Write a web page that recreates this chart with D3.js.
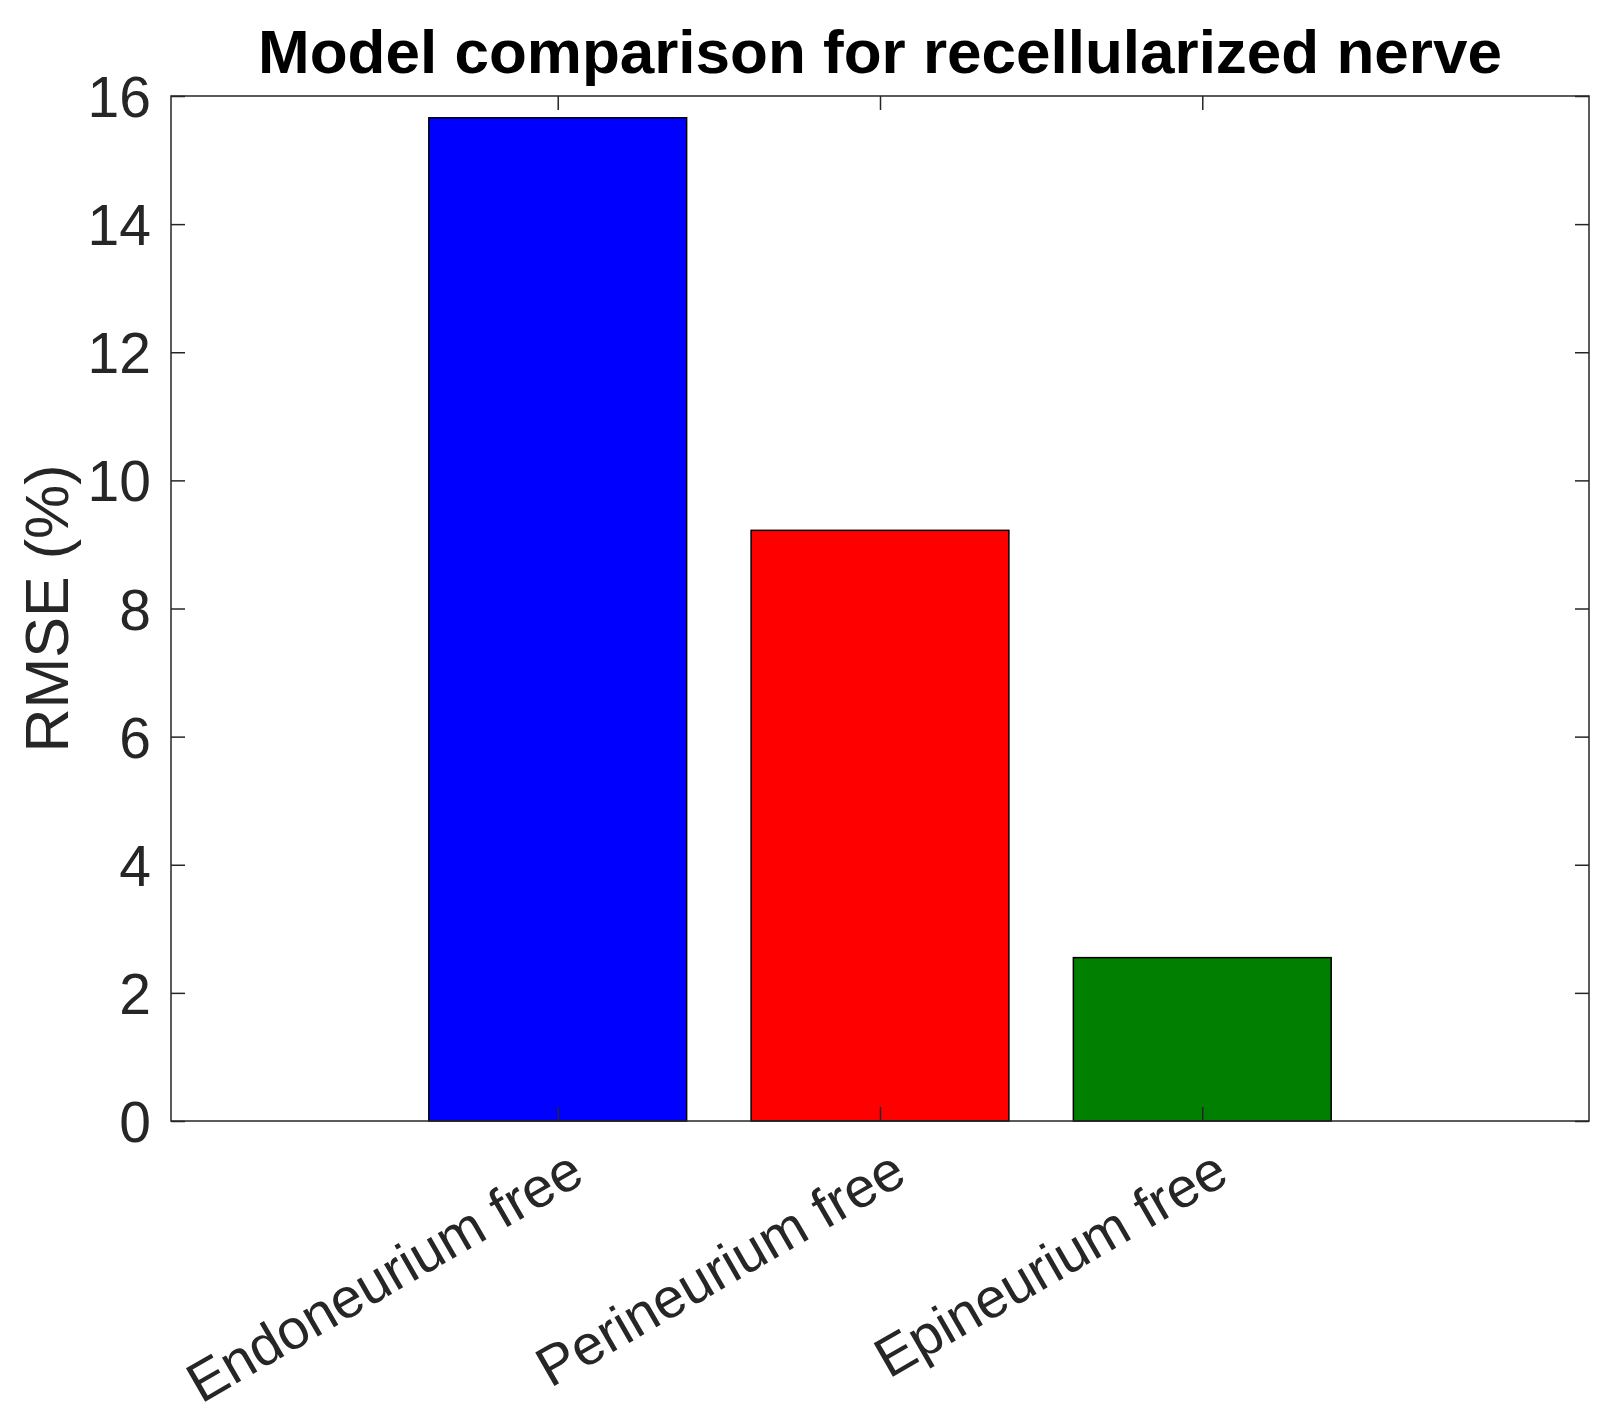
<!DOCTYPE html>
<html><head><meta charset="utf-8">
<script src="https://cdn.jsdelivr.net/npm/d3@7"></script>
<style>body{margin:0;background:#fff;} text{font-family:"Liberation Sans",Arial,sans-serif;}</style>
</head><body>
<svg id="c" width="1612" height="1427"></svg>
<script>
const categories = ["Endoneurium free", "Perineurium free", "Epineurium free"];
const values = [15.66, 9.22, 2.55];
const colors = ["#0000ff", "#ff0000", "#007f00"];
const yTicks = [0, 2, 4, 6, 8, 10, 12, 14, 16];
const titleText = "Model comparison for recellularized nerve";
const yLabel = "RMSE (%)";

const svg = d3.select("#c");
const L = 171, R = 1589, T = 96, B = 1121;
const x = d3.scaleLinear().domain([-0.2, 4.2]).range([L, R]);
const y = d3.scaleLinear().domain([0, 16]).range([B, T]);
const pos = [1, 2, 3];
const bw = 0.8;
const axCol = "#262626";

// bars
svg.selectAll("rect.bar").data(values).enter().append("rect")
  .attr("x", (d, i) => x(pos[i] - bw / 2))
  .attr("width", (d, i) => x(pos[i] + bw / 2) - x(pos[i] - bw / 2))
  .attr("y", d => y(d))
  .attr("height", d => y(0) - y(d))
  .attr("fill", (d, i) => colors[i])
  .attr("stroke", "#000").attr("stroke-width", 1.5);

// box
svg.append("rect").attr("x", L).attr("y", T).attr("width", R - L).attr("height", B - T)
  .attr("fill", "none").attr("stroke", axCol).attr("stroke-width", 1.5);

const tl = 14;
// y ticks left/right
const yAxL = d3.axisLeft(y).tickValues(yTicks).tickSize(-tl).tickPadding(tl + 6);
const gL = svg.append("g").attr("transform", `translate(${L},0)`).call(yAxL);
gL.select(".domain").remove();
gL.selectAll("line").attr("stroke", axCol).attr("stroke-width", 1.5);
gL.selectAll("text").attr("fill", axCol).style("font-size", "57px").attr("dy", "0.36em");
const gR = svg.append("g").attr("transform", `translate(${R},0)`).call(d3.axisRight(y).tickValues(yTicks).tickSize(-tl).tickFormat(""));
gR.select(".domain").remove();
gR.selectAll("line").attr("stroke", axCol).attr("stroke-width", 1.5);

// x ticks bottom/top
const gB = svg.append("g").attr("transform", `translate(0,${B})`).call(d3.axisBottom(x).tickValues(pos).tickSize(-tl).tickFormat(""));
gB.select(".domain").remove();
gB.selectAll("line").attr("stroke", axCol).attr("stroke-width", 1.5);
const gT = svg.append("g").attr("transform", `translate(0,${T})`).call(d3.axisTop(x).tickValues(pos).tickSize(-tl).tickFormat(""));
gT.select(".domain").remove();
gT.selectAll("line").attr("stroke", axCol).attr("stroke-width", 1.5);

// x labels rotated
svg.selectAll("text.xl").data(categories).enter().append("text")
  .attr("class", "xl")
  .attr("transform", (d, i) => `translate(${x(pos[i]) + 8},${B + 24}) rotate(-30)`)
  .attr("text-anchor", "end").attr("dy", "0.75em")
  .attr("fill", axCol).style("font-size", "56px").text(d => d);

// y label
svg.append("text").attr("transform", `translate(68,${(T + B) / 2}) rotate(-90)`)
  .attr("text-anchor", "middle").attr("fill", axCol).style("font-size", "61px").text(yLabel);

// title
svg.append("text").attr("x", (L + R) / 2).attr("y", 73).attr("text-anchor", "middle")
  .attr("fill", "#000").style("font-size", "62px").style("font-weight", "bold").text(titleText);
</script>
</body></html>
